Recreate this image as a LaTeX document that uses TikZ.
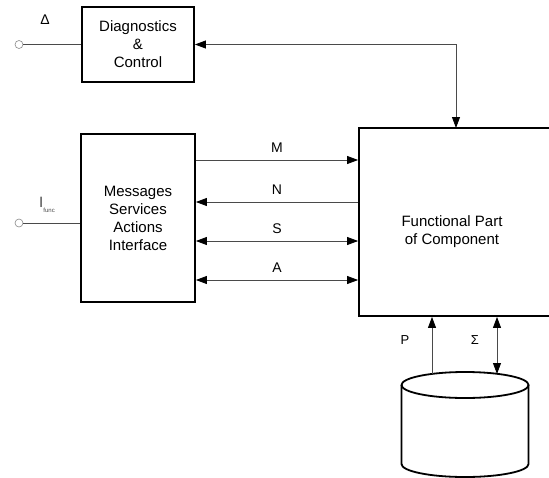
\documentclass[tikz,border=0pt]{standalone}
\usepackage{fontspec}
\setmainfont{Liberation Sans}
\usetikzlibrary{arrows.meta}
\definecolor{wire}{HTML}{4A4A4A}
\definecolor{pin}{HTML}{8A8A8A}

\begin{document}
\begin{tikzpicture}[x=1pt, y=-1pt,
      every node/.style={font=\fontsize{15}{18}\selectfont},
      block/.style={draw=black, line width=1.8pt, align=center, inner sep=0pt},
      link/.style={draw=wire, line width=0.8pt},
      lbl/.style={font=\fontsize{14}{14}\selectfont, above=4pt},
      tip/.style={-{Triangle[length=11pt,width=8pt,color=black]}},
      both/.style={{Triangle[length=11pt,width=8pt,color=black]}-{Triangle[length=11pt,width=8pt,color=black]}},
      back/.style={{Triangle[length=11pt,width=8pt,color=black]}-}]

    \clip (0,0) rectangle (549,477);

    % blocks
    \node[block, minimum width=112pt, minimum height=75pt] at (138,44.5) (diag)
      {Diagnostics\\\&\\Control};
    \node[block, minimum width=114pt, minimum height=168pt] at (138,218) (msg)
      {Messages\\Services\\Actions\\Interface};
    \node[block, minimum width=193pt, minimum height=188pt] at (455.5,222) (func) {};
    \node[align=center] at (452,232) (functxt) {Functional Part\\of Component};

    % inputs
    \node[draw=pin, circle, inner sep=0pt, minimum size=8pt, line width=0.6pt] at (19,44.5) (pDiag) {};
    \node[draw=pin, circle, inner sep=0pt, minimum size=8pt, line width=0.6pt] at (19,223) (pMsg) {};
    \draw[draw=wire, line width=0.8pt] (pDiag) -- (diag.west);
    \draw[draw=wire, line width=0.8pt] (pMsg) -- (pMsg -| msg.west);
    \node[font=\fontsize{14}{14}\selectfont] at (45,20) (delta) {Δ};
    \node[font=\fontsize{15}{15}\selectfont, text=wire] at (47,205) (ifunc)
      {I\raisebox{-0.6ex}{\fontsize{6}{6}\selectfont func}};

    % diagnostics link
    \coordinate (fTop) at (456,128);
    \draw[link, both] (diag.east) -| (fTop);

    % interface links
    \draw[link, tip] ([yshift=58pt]msg.east) -- ([yshift=58pt]msg.east -| func.west)
      node[lbl, midway] {M};
    \draw[link, back] ([yshift=16pt]msg.east) -- ([yshift=16pt]msg.east -| func.west)
      node[lbl, midway] {N};
    \draw[link, both] ([yshift=-23pt]msg.east) -- ([yshift=-23pt]msg.east -| func.west)
      node[lbl, midway] {S};
    \draw[link, both] ([yshift=-62pt]msg.east) -- ([yshift=-62pt]msg.east -| func.west)
      node[lbl, midway] {A};

    % storage
    \draw[line width=1.8pt] (401.5,385) -- (401.5,464)
      arc[start angle=180, end angle=360, x radius=63.5pt, y radius=13pt]
      -- (528.5,385);
    \draw[line width=1.8pt] (465,385) ellipse[x radius=63.5pt, y radius=13pt];
    \coordinate (dbP) at (432,374);
    \coordinate (dbS) at (497,374);
    \draw[link, tip] (dbP) -- (dbP |- func.south);
    \draw[link, both] (dbS) -- (dbS |- func.south);
    \node[font=\fontsize{13}{13}\selectfont] at (405,340) (lblP) {P};
    \node[font=\fontsize{13}{13}\selectfont] at (475,340) (lblS) {Σ};
  \end{tikzpicture}
\end{document}
